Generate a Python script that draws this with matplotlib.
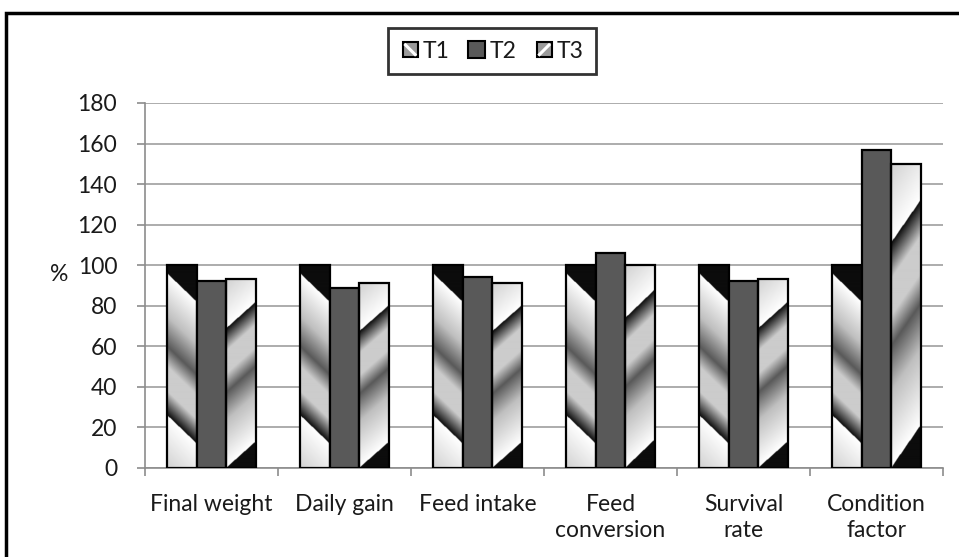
import numpy as np
import matplotlib
matplotlib.use('Agg')
import matplotlib.pyplot as plt
from matplotlib.patches import Rectangle
from matplotlib.lines import Line2D
from matplotlib.legend_handler import HandlerBase

plt.rcParams['font.family'] = ['Lato', 'DejaVu Sans']

# data (% of T1)
categories = ['Final weight', 'Daily gain', 'Feed intake', 'Feed\nconversion', 'Survival\nrate', 'Condition\nfactor']
t1 = [100, 100, 100, 100, 100, 100]
t2 = [92, 89, 94, 106, 92, 157]
t3 = [93, 91, 91, 100, 93, 150]
series_names = ['T1', 'T2', 'T3']

T2_COLOR = '#595959'
TEXT = '#1a1a1a'
FS = 16.5


def stripe_image(flip, offset, rows=400, cols=60):
    # diagonal "chrome" style gradient, normalised to the bar box
    u = np.linspace(0, 1, cols)[None, :]
    d = np.linspace(0, 1, rows)[:, None]          # distance from top
    if flip:
        d = 1 - d
    s = d - 0.14 * u
    stops_s = [-1, offset - 1e-4, offset, 0.25, 0.40, 0.50, 0.62, 0.74, 0.7401, 1.0, 2.0]
    stops_v = [0.05, 0.05, 1.0, 0.75, 0.35, 0.80, 0.80, 0.05, 1.0, 0.82, 0.82]
    return np.interp(s, stops_s, stops_v)


def draw_bar(ax, x0, w, h, flip, offset):
    rect = Rectangle((x0, 0), w, h, facecolor='none', edgecolor='black', lw=1.6, zorder=4)
    ax.add_patch(rect)
    img = stripe_image(flip, offset)
    im = ax.imshow(img, cmap='gray', vmin=0, vmax=1, extent=[x0, x0 + w, 0, h],
                   aspect='auto', interpolation='bilinear', origin='upper', zorder=3)
    im.set_clip_path(rect)


fig = plt.figure(figsize=(9.59, 5.57), dpi=100)
ax = fig.add_axes([0.1512, 0.1598, 0.9833 - 0.1512, 0.8151 - 0.1598])

x = np.arange(len(categories))
bw = 0.222
for i in range(len(categories)):
    draw_bar(ax, x[i] - 1.5 * bw, bw, t1[i], flip=False, offset=0.04)
    ax.bar(x[i], t2[i], width=bw, color=T2_COLOR, edgecolor='black', lw=1.6, zorder=4)
    draw_bar(ax, x[i] + 0.5 * bw, bw, t3[i], flip=True, offset=0.0)

ax.set_xlim(-0.5, len(categories) - 0.5)
ax.set_ylim(0, 180)
ax.set_yticks(range(0, 181, 20))
ax.yaxis.grid(True, color='#a6a6a6', lw=1.3, zorder=0)
ax.set_axisbelow(True)

ax.set_xticks(x)
ax.set_xticklabels(categories, fontsize=FS, color=TEXT, linespacing=1.3, va='top')
ax.set_xticks(np.arange(-0.5, len(categories)), minor=True)
ax.tick_params(axis='x', which='major', length=0, pad=19)
ax.tick_params(axis='x', which='minor', length=6, width=1.2, color='#8c8c8c', direction='out')
ax.tick_params(axis='y', length=6, width=1.2, color='#8c8c8c', pad=14, labelsize=FS, labelcolor=TEXT)

for side in ['top', 'right']:
    ax.spines[side].set_visible(False)
ax.spines['left'].set_color('#8c8c8c')
ax.spines['bottom'].set_color('#8c8c8c')
ax.spines['left'].set_linewidth(1.2)
ax.spines['bottom'].set_linewidth(1.2)

ax.set_ylabel('%', rotation=0, fontsize=FS, color=TEXT, labelpad=0)
ax.yaxis.set_label_coords(-0.108, 0.5)


class StripeHandler(HandlerBase):
    def __init__(self, flip):
        super().__init__()
        self.flip = flip

    def create_artists(self, legend, orig_handle, xdescent, ydescent, width, height, fontsize, trans):
        side = min(width, height) * 0.9
        x0 = -xdescent + width - side
        y0 = -ydescent + (height - side) / 2
        sq = Rectangle((x0, y0), side, side, facecolor='#9a9a9a', edgecolor='black', lw=1.5, transform=trans)
        if self.flip:
            ln = Line2D([x0 + 2, x0 + side - 2], [y0 + 2, y0 + side - 2], color='white', lw=2.2, transform=trans)
        else:
            ln = Line2D([x0 + 2, x0 + side - 2], [y0 + side - 2, y0 + 2], color='white', lw=2.2, transform=trans)
        return [sq, ln]


h1 = Rectangle((0, 0), 1, 1)
h2 = Rectangle((0, 0), 1, 1, facecolor=T2_COLOR, edgecolor='black', lw=1.5)
h3 = Rectangle((0, 0), 1, 1)
leg = fig.legend([h1, h2, h3], series_names, loc='center', bbox_to_anchor=(0.513, 0.908),
                 ncol=3, frameon=True, fancybox=False, fontsize=FS,
                 handler_map={h1: StripeHandler(False), h3: StripeHandler(True)},
                 handlelength=0.75, handleheight=0.75, handletextpad=0.2, columnspacing=0.8,
                 borderpad=0.55)
leg.get_frame().set_edgecolor('black')
leg.get_frame().set_linewidth(2)
for t in leg.get_texts():
    t.set_color(TEXT)

# outer chart border (cropped on the right and bottom)
fig.patches.append(Rectangle((6 / 959, -0.05), 1.05, 0.9767 + 0.05, transform=fig.transFigure,
                             fill=False, edgecolor='black', lw=2.5))

fig.savefig('out.png', dpi=100)
